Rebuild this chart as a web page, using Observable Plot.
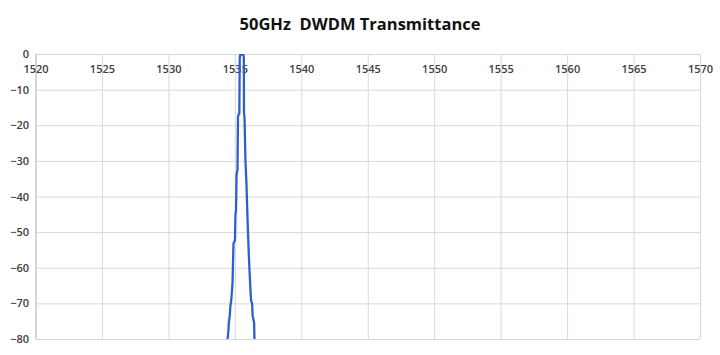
<!DOCTYPE html>
<html>
<head>
<meta charset="utf-8">
<script src="https://cdn.jsdelivr.net/npm/d3@7"></script>
<script src="https://cdn.jsdelivr.net/npm/@observablehq/plot@0.6"></script>
<style>
  html, body { margin: 0; padding: 0; background: #fff; }
  #title { height: 40px; width: 720px; text-align: center; font-family: "Open Sans", sans-serif; font-weight: 700; font-size: 16.5px; line-height: 40px; color: #111; box-sizing: border-box; padding-top: 4px; }
</style>
</head>
<body>
<div id="title">50GHz&nbsp;&nbsp;DWDM Transmittance</div>
<div id="chart"></div>
<script>
const wavelength = [1534.41,1534.48,1534.51,1534.58,1534.63,1534.69,1534.73,1534.79,1534.82,1534.86,1534.97,1535.01,1535.05,1535.09,1535.16,1535.20,1535.30,1535.33,1535.37,1535.50,1535.60,1535.64,1535.65,1535.69,1535.76,1535.84,1535.92,1536.03,1536.12,1536.18,1536.26,1536.30,1536.41,1536.44];
const transmittance = [-80,-77.5,-75.2,-73.3,-70.5,-69.0,-67.1,-64.0,-59.2,-53.0,-52.2,-44.6,-44.1,-33.6,-32.5,-17.3,-16.5,-1.0,0,0,0,-1.0,-16.6,-17.7,-29.7,-36.7,-46.6,-57.8,-64.8,-69.0,-69.9,-73.3,-75.2,-80];
const xTicks = [1520,1525,1530,1535,1540,1545,1550,1555,1560,1565,1570];
const yTicks = [0,-10,-20,-30,-40,-50,-60,-70,-80];

const data = wavelength.map((w, i) => ({w, t: transmittance[i]}));

const chart = Plot.plot({
  width: 720,
  height: 315,
  marginTop: 14,
  marginBottom: 16,
  marginLeft: 35.5,
  marginRight: 20,
  style: { fontFamily: "Open Sans, sans-serif", fontSize: "11px", color: "#404040", background: "#fff" },
  x: { domain: [1520, 1570], axis: null },
  y: { domain: [-80, 0], axis: null },
  marks: [
    Plot.ruleX(xTicks, { stroke: "#d9d9d9", strokeWidth: 1 }),
    Plot.ruleY(yTicks, { stroke: "#d9d9d9", strokeWidth: 1 }),
    Plot.ruleX([1520], { stroke: "#bfbfbf", strokeWidth: 1 }),
    Plot.axisY({ ticks: yTicks, tickSize: 0, tickPadding: 7, fontSize: 11, fontWeight: 600, fill: "#404040", label: null }),
    Plot.text(xTicks, { x: d => d, y: 0, dy: 15, text: d => String(d), fontSize: 11, fontWeight: 600, fill: "#404040" }),
    Plot.line(data, { x: "w", y: "t", stroke: "#2f5fcc", strokeWidth: 2.3, clip: true })
  ]
});
document.getElementById("chart").appendChild(chart);
</script>
</body>
</html>
